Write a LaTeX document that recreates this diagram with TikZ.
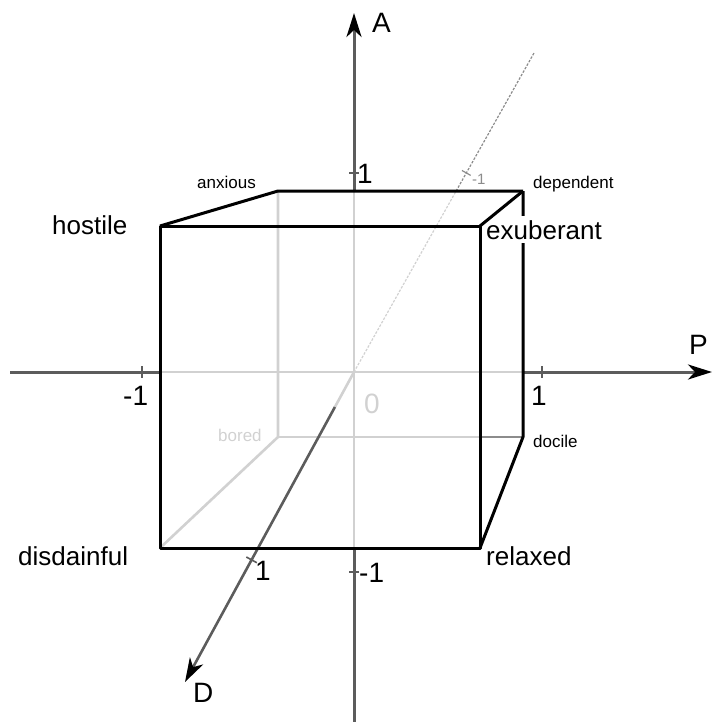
\documentclass[tikz,border=0pt]{standalone}
\usepackage{fontspec}
\setmainfont{Liberation Sans}
\usetikzlibrary{arrows.meta,calc}

\definecolor{axisgray}{gray}{0.36}
\definecolor{hidegray}{gray}{0.82}
\definecolor{midgray}{gray}{0.55}

\begin{document}
\begin{tikzpicture}[x=1pt, y=-1pt]
  \tikzset{
    cube_edge/.style={line width=3pt, black, line join=round},
    hidden_edge/.style={line width=2.6pt, hidegray},
    axis_line/.style={line width=3pt, axisgray},
    axis_tip/.style={-{Stealth[length=24pt, width=15pt, inset=7pt, color=black]}},
    tick_mark/.style={line width=1.6pt, axisgray},
    lbl_big/.style={font=\fontsize{26}{30}\selectfont, anchor=base west, inner sep=0pt},
    lbl_num/.style={font=\fontsize{28}{32}\selectfont, anchor=base west, inner sep=0pt},
    lbl_small/.style={font=\fontsize{17}{20}\selectfont, anchor=base west, inner sep=0pt},
  }
  \useasboundingbox (0,0) rectangle (713,722);

  % cube corners
  \coordinate (ftl) at (160,226);
  \coordinate (ftr) at (480,226);
  \coordinate (fbl) at (160,548);
  \coordinate (fbr) at (480,548);
  \coordinate (btl) at (278,191);
  \coordinate (btr) at (523,191);
  \coordinate (bbl) at (278,437);
  \coordinate (bbr) at (523,437);

  % axis ends
  \coordinate (oo) at (354,372);
  \coordinate (p_left) at (10,372);
  \coordinate (p_right) at (712,372);
  \coordinate (a_top) at (354,13);
  \coordinate (a_bottom) at (354,722);
  \coordinate (d_top) at (534,53);
  \coordinate (d_tip) at (185,682);
  \coordinate (d_cut) at ($(oo)!0.567!(d_top)$);
  \coordinate (d_front) at ($(oo)!0.113!(d_tip)$);
  \coordinate (d_one) at ($(oo)!0.606!(d_tip)$);
  \coordinate (d_minus) at ($(oo)!0.624!(d_top)$);

  % hidden edges
  \draw[hidden_edge] (btl) -- (bbl) -- (fbl);
  \draw[hidden_edge] (bbl) -- (fbr |- bbl);
  \draw[hidden_edge, midgray] (fbr |- bbl) -- (bbr);

  % P axis
  \draw[axis_line] (p_left) -- (ftl |- oo);
  \draw[hidden_edge] (ftl |- oo) -- (btr |- oo);
  \draw[axis_line, axis_tip] (btr |- oo) -- (p_right);

  % A axis
  \draw[axis_line] (a_bottom) -- (oo |- fbl);
  \draw[hidden_edge] (oo |- fbl) -- (oo |- btl);
  \draw[axis_line, axis_tip] (oo |- btl) -- (a_top);

  % D axis
  \draw[line width=1.2pt, midgray, dash pattern=on 2.5pt off 1.5pt] (d_cut) -- (d_top);
  \draw[line width=1.2pt, hidegray, dash pattern=on 2.5pt off 1.5pt] (oo) -- (d_cut);
  \draw[hidden_edge] (oo) -- (d_front);
  \draw[axis_line, line width=2.6pt, axis_tip] (d_front) -- (d_tip);

  % ticks
  \foreach \x in {142,542}
    \draw[tick_mark] (\x,366) -- (\x,378);
  \foreach \y in {173,572}
    \draw[tick_mark] (349,\y) -- (359,\y);
  \draw[tick_mark] ($(d_one)!6pt!90:(oo)$) -- ($(d_one)!6pt!-90:(oo)$);
  \draw[tick_mark, line width=1.2pt, midgray] ($(d_minus)!5pt!90:(oo)$) -- ($(d_minus)!5pt!-90:(oo)$);

  % cube
  \draw[cube_edge] (ftl) rectangle (fbr);
  \draw[cube_edge] (ftl) -- (btl) -- (btr);
  \draw[cube_edge] (btr) -- (bbr) -- (fbr);

  % corner labels
  \node[lbl_big] (hostile) at (52,234) {hostile};
  \node[lbl_big, fill=white, inner ysep=4pt] (exuberant) at (486,239) {exuberant};
  \draw[cube_edge] (btr) -- (ftr);
  \node[lbl_big] (disdainful) at (18,565) {disdainful};
  \node[lbl_big] (relaxed) at (486,565) {relaxed};
  \node[lbl_small] (anxious) at (197,189) {anxious};
  \node[lbl_small] (dependent) at (533,188) {dependent};
  \node[lbl_small, hidegray] (bored) at (218,441) {bored};
  \node[lbl_small] (docile) at (533,447) {docile};

  % axis labels
  \node[lbl_num] (a_name) at (372,33) {A};
  \node[lbl_num] (p_name) at (689,354) {P};
  \node[lbl_num] (d_name) at (193,702) {D};
  \node[lbl_num] (p_minus) at (123,405) {-1};
  \node[lbl_num] (p_plus) at (531,405) {1};
  \node[lbl_num] (a_plus) at (357,183) {1};
  \node[lbl_num] (a_minus) at (359,582) {-1};
  \node[lbl_num] (d_plus) at (255,580) {1};
  \node[lbl_num, hidegray] (zero) at (364,413) {0};
  \node[lbl_small, font=\fontsize{15}{17}\selectfont, midgray] (d_minus_lbl) at (472,184) {-1};
\end{tikzpicture}
\end{document}
